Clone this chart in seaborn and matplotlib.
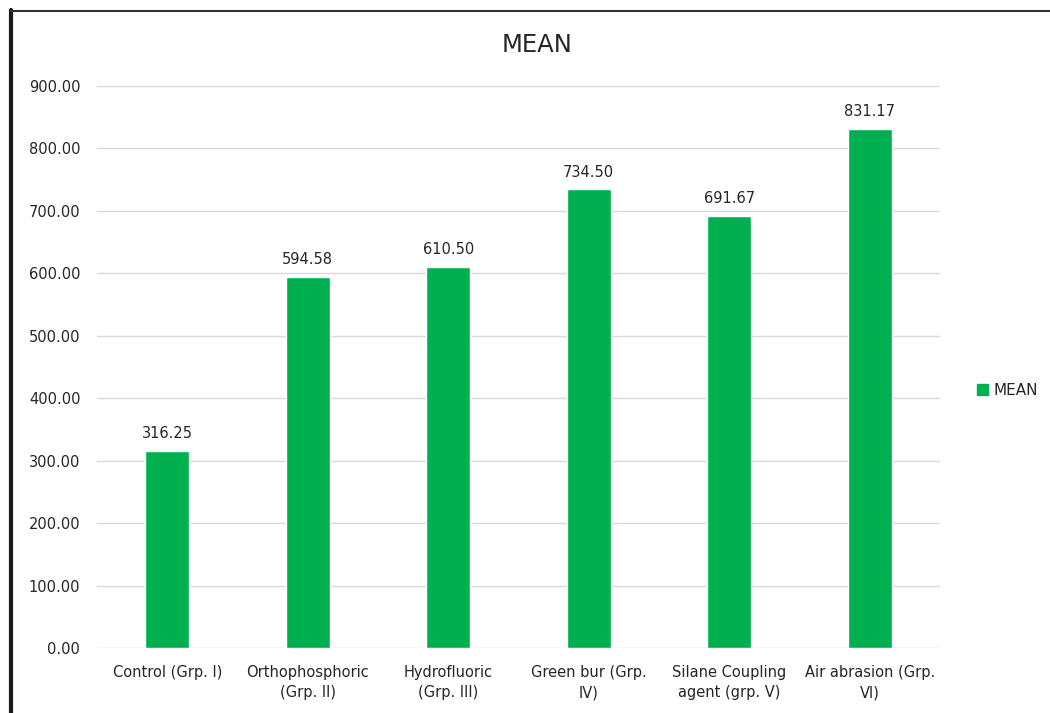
import matplotlib
matplotlib.use("Agg")
import matplotlib.pyplot as plt
from matplotlib.lines import Line2D
from matplotlib.patches import Patch
import seaborn as sns
import pandas as pd

# data
groups = ["Control (Grp. I)", "Orthophosphoric\n(Grp. II)", "Hydrofluoric\n(Grp. III)",
          "Green bur (Grp.\nIV)", "Silane Coupling\nagent (grp. V)", "Air abrasion (Grp.\nVI)"]
means = [316.25, 594.58, 610.50, 734.50, 691.67, 831.17]
yticks = [0, 100, 200, 300, 400, 500, 600, 700, 800, 900]

green = "#00B050"
txt = "#262626"

sns.set_theme(style="white")
plt.rcParams['font.family'] = ['DejaVu Sans']

df = pd.DataFrame({"group": groups, "MEAN": means})

fig = plt.figure(figsize=(10.5, 7.13), dpi=100)
ax = fig.add_axes([97 / 1050, 1 - 648 / 713, (940 - 97) / 1050, (648 - 86) / 713])

sns.barplot(data=df, x="group", y="MEAN", color=green, width=0.31, saturation=1, ax=ax)

ax.set_ylim(0, 900)
ax.set_yticks(yticks)
ax.set_yticklabels([f"{v:.2f}" for v in yticks], fontsize=10.5, color=txt)
ax.tick_params(axis="x", length=0, pad=12)
ax.tick_params(axis="y", length=0, pad=12)
for lbl in ax.get_xticklabels():
    lbl.set_fontsize(10.5)
    lbl.set_color(txt)
    lbl.set_linespacing(1.45)
ax.yaxis.grid(True, color="#d9d9d9", linewidth=1)
ax.set_axisbelow(True)
for s in ax.spines.values():
    s.set_visible(False)
ax.set_xlabel("")
ax.set_ylabel("")

for i, v in enumerate(means):
    ax.annotate(f"{v:.2f}", (i, v), xytext=(0, 7), textcoords="offset points",
                ha="center", va="bottom", fontsize=10.5, color=txt)

fig.text(537 / 1050, 1 - 45 / 713, "MEAN", ha="center", va="center", fontsize=17.5, color=txt)

fig.legend(handles=[Patch(color=green, label="MEAN")], loc="center left",
           bbox_to_anchor=(969 / 1050, 1 - 390 / 713), frameon=False, fontsize=11,
           handlelength=0.75, handleheight=0.75, handletextpad=0.35, borderpad=0)

# frame edges of the original screenshot
fig.add_artist(Line2D([11 / 1050, 11 / 1050], [0, 1 - 10 / 713], color="#1a1a1a", linewidth=3,
                      transform=fig.transFigure))
fig.add_artist(Line2D([11 / 1050, 1], [1 - 11 / 713, 1 - 11 / 713], color="#333333", linewidth=1.5,
                      transform=fig.transFigure))

fig.savefig("out.png", dpi=100)
